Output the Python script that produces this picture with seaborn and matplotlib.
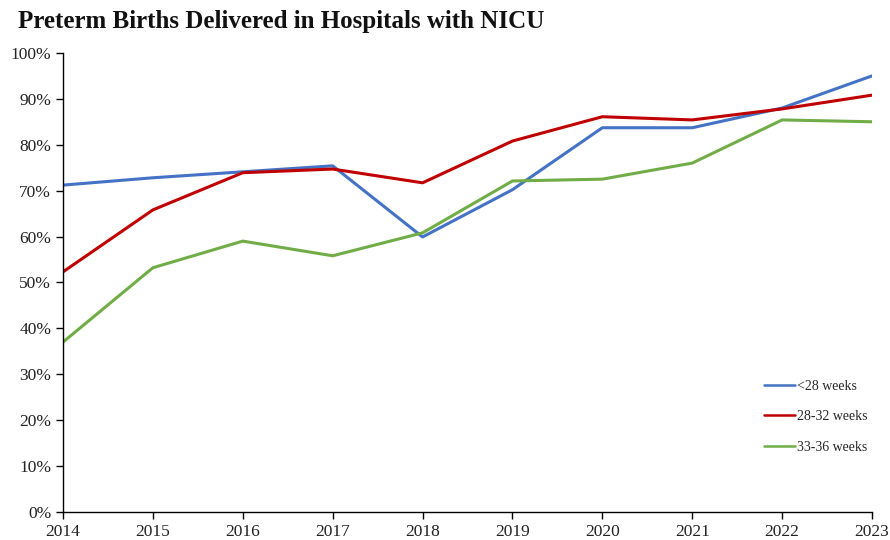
import numpy as np
import pandas as pd
import seaborn as sns
import matplotlib.pyplot as plt
from matplotlib.ticker import PercentFormatter

sns.set_style("white")
plt.rcParams['font.family'] = ['Liberation Serif', 'DejaVu Serif']

years = [2014, 2015, 2016, 2017, 2018, 2019, 2020, 2021, 2022, 2023]
under_28 = [71.2, 72.8, 74.1, 75.4, 59.9, 70.2, 83.7, 83.7, 88.0, 95.0]
w28_32 = [52.3, 65.8, 73.9, 74.7, 71.7, 80.8, 86.1, 85.4, 87.8, 90.8]
w33_36 = [37.0, 53.2, 59.0, 55.8, 60.8, 72.1, 72.5, 76.0, 85.4, 85.0]
labels = ["<28 weeks", "28-32 weeks", "33-36 weeks"]
colors = ["#4472C4", "#C00000", "#70AD47"]

df = pd.DataFrame({
    "year": years * 3,
    "pct": under_28 + w28_32 + w33_36,
    "group": [labels[0]] * 10 + [labels[1]] * 10 + [labels[2]] * 10,
})

fig = plt.figure(figsize=(8.9, 5.4), dpi=100)
ax = fig.add_axes([0.0708, 0.052, 0.909, 0.850])
sns.lineplot(data=df, x="year", y="pct", hue="group", palette=colors,
             linewidth=2.2, ax=ax)

ax.set_xlim(2014, 2023)
ax.set_ylim(0, 100)
ax.set_xticks(years)
ax.set_yticks(range(0, 101, 10))
ax.yaxis.set_major_formatter(PercentFormatter(decimals=0))
ax.set_xlabel("")
ax.set_ylabel("")
sns.despine(ax=ax)
for s in ["left", "bottom"]:
    ax.spines[s].set_color("black")
    ax.spines[s].set_linewidth(1.0)
ax.tick_params(axis="both", which="both", direction="out", length=5, width=1,
               color="black", labelsize=12.5, labelcolor="#222222", bottom=True, left=True)

leg = ax.legend(loc="lower right", bbox_to_anchor=(1.01, 0.1), frameon=False,
                fontsize=10, handlelength=2.2, handletextpad=0.15, labelspacing=1.25)
for line in leg.get_lines():
    line.set_linewidth(1.8)

fig.text(0.02, 0.96, "Preterm Births Delivered in Hospitals with NICU",
         fontsize=18, fontweight="bold", color="#111111", va="center")

fig.savefig("out.png", dpi=100)
